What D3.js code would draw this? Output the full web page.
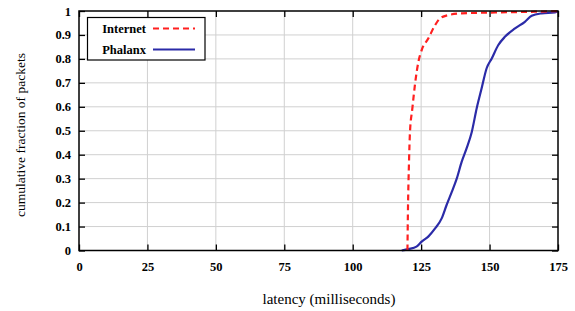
<!DOCTYPE html>
<html><head><meta charset="utf-8">
<script src="https://cdn.jsdelivr.net/npm/d3@7"></script>
<style>
body{margin:0;background:#fff;}
svg text{fill:#000;}
</style></head>
<body><svg id="c" width="575" height="311"></svg>
<script>
const xTicks = [0,25,50,75,100,125,150,175];
const yTicks = [0,0.1,0.2,0.3,0.4,0.5,0.6,0.7,0.8,0.9,1];
const yTickLabels = ["0","0.1","0.2","0.3","0.4","0.5","0.6","0.7","0.8","0.9","1"];
const seriesNames = ["Internet","Phalanx"];
const internetX = [120.0,120.1,120.6,120.9,121.8,122.8,124.0,125.2,127.6,130.1,131.9,134.9,139.8,152.0,166.6,175];
const internetY = [0,0.1,0.384,0.49,0.594,0.698,0.788,0.837,0.885,0.941,0.969,0.983,0.99,0.994,0.997,1];
const phalanxX = [117.9,120.3,123.3,125.2,127.6,130.1,132.5,134.3,136.2,138.0,139.8,141.6,143.5,145.3,147.1,148.9,150.8,153.2,155.6,159.3,162.9,165.4,169.0,173.9,175];
const phalanxY = [0,0.006,0.016,0.037,0.058,0.092,0.134,0.19,0.245,0.3,0.37,0.426,0.495,0.594,0.677,0.76,0.802,0.858,0.892,0.927,0.955,0.98,0.99,0.994,1];

const FONT = "Liberation Serif, Times New Roman, serif";
const svg = d3.select("#c");
const L=79, R=558, T=11, B=250.5;
const x = d3.scaleLinear().domain([0,175]).range([L,R]);
const y = d3.scaleLinear().domain([0,1]).range([B,T]);

// grid
const g = svg.append("g");
g.selectAll("line.gx").data(xTicks.slice(1,-1)).enter().append("line")
 .attr("x1",d=>x(d)).attr("x2",d=>x(d)).attr("y1",T).attr("y2",B)
 .attr("stroke","#d0d0d0").attr("stroke-width",1);
g.selectAll("line.gy").data(yTicks.slice(1,-1)).enter().append("line")
 .attr("y1",d=>y(d)).attr("y2",d=>y(d)).attr("x1",L).attr("x2",R)
 .attr("stroke","#d0d0d0").attr("stroke-width",1);

// axes
const axB = d3.axisBottom(x).tickValues(xTicks).tickSize(-6).tickPadding(12).tickFormat(d3.format("d"));
const axT = d3.axisTop(x).tickValues(xTicks).tickSize(-6).tickFormat("");
const axL = d3.axisLeft(y).tickValues(yTicks).tickSize(-6).tickPadding(8).tickFormat((d,i)=>yTickLabels[i]);
const axR = d3.axisRight(y).tickValues(yTicks).tickSize(-6).tickFormat("");
function style(sel){
  sel.attr("font-family",FONT);
  sel.select(".domain").remove();
  sel.selectAll(".tick line").attr("stroke","#000").attr("stroke-width",1.3);
  sel.selectAll(".tick text").attr("font-size","12.5px").attr("font-weight","bold").attr("fill","#000").attr("font-family",FONT);
}
svg.append("g").attr("transform",`translate(0,${B})`).call(axB).call(style);
svg.append("g").attr("transform",`translate(0,${T})`).call(axT).call(style);
svg.append("g").attr("transform",`translate(${L},0)`).call(axL).call(style);
svg.append("g").attr("transform",`translate(${R},0)`).call(axR).call(style);

// lines
const line = d3.line().x(d=>x(d[0])).y(d=>y(d[1])).curve(d3.curveMonotoneX);
svg.append("path").datum(phalanxX.map((v,i)=>[v,phalanxY[i]]))
 .attr("d",line).attr("fill","none").attr("stroke","#2b2ba8").attr("stroke-width",2.2);
svg.append("path").datum(internetX.map((v,i)=>[v,internetY[i]]))
 .attr("d",line).attr("fill","none").attr("stroke","#ff2020").attr("stroke-width",2.2)
 .attr("stroke-dasharray","6,4");

// frame
svg.append("rect").attr("x",L).attr("y",T).attr("width",R-L).attr("height",B-T)
 .attr("fill","none").attr("stroke","#000").attr("stroke-width",1.5);

// legend
const lg = svg.append("g");
lg.append("rect").attr("x",87.5).attr("y",17.5).attr("width",117.5).attr("height",42.5)
 .attr("fill","#fff").attr("stroke","#000").attr("stroke-width",1.2);
const legY=[28.5,49.5], legC=["#ff2020","#2b2ba8"], legD=["6,4",null];
seriesNames.forEach((n,i)=>{
  lg.append("text").attr("x",146).attr("y",legY[i]+4.5).attr("text-anchor","end")
    .attr("font-family",FONT).attr("font-size","12.5px").attr("font-weight","bold").text(n);
  const l = lg.append("line").attr("x1",153).attr("x2",195).attr("y1",legY[i]).attr("y2",legY[i])
    .attr("stroke",legC[i]).attr("stroke-width",2.2);
  if(legD[i]) l.attr("stroke-dasharray",legD[i]);
});

// axis labels
svg.append("text").attr("x",329).attr("y",304).attr("text-anchor","middle")
 .attr("font-family",FONT).attr("font-size","15px").text("latency (milliseconds)");
svg.append("text").attr("transform","translate(25,135) rotate(-90)").attr("text-anchor","middle")
 .attr("font-family",FONT).attr("font-size","13.5px").text("cumulative fraction of packets");
</script></body></html>
